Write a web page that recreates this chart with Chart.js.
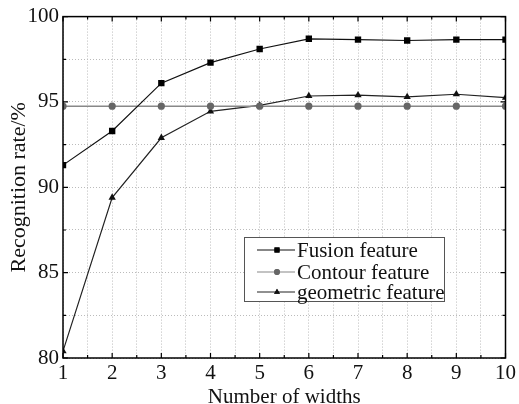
<!DOCTYPE html>
<html>
<head>
<meta charset="utf-8">
<script src="https://cdn.jsdelivr.net/npm/chart.js@4"></script>
<style>
  html, body { margin: 0; padding: 0; background: #fff; }
  #wrap { width: 519px; height: 404px; }
</style>
</head>
<body>
<div id="wrap"><canvas id="c" width="519" height="404"></canvas></div>
<script>
// Dados
const widths = [1, 2, 3, 4, 5, 6, 7, 8, 9, 10];
const fusionFeature = [91.3, 93.3, 96.1, 97.3, 98.1, 98.7, 98.65, 98.6, 98.65, 98.65];
const contourFeature = [94.75, 94.75, 94.75, 94.75, 94.75, 94.75, 94.75, 94.75, 94.75, 94.75];
const geometricFeature = [80.4, 89.4, 92.9, 94.45, 94.8, 95.35, 95.4, 95.3, 95.45, 95.25];
const seriesNames = ['Fusion feature', 'Contour feature', 'geometric feature'];

const FONT = '"Liberation Serif", "DejaVu Serif", serif';
const toPoints = arr => widths.map((x, i) => ({ x: x, y: arr[i] }));

// moldura + ticks internos
const framePlugin = {
  id: 'frame',
  afterDraw(chart) {
    const { ctx, chartArea: a, scales: { x, y } } = chart;
    ctx.save();
    ctx.strokeStyle = '#000';
    ctx.lineWidth = 1.5;
    ctx.strokeRect(a.left, a.top, a.right - a.left, a.bottom - a.top);
    ctx.lineWidth = 1.2;
    ctx.beginPath();
    for (let v = 1; v <= 10.001; v += 0.5) {
      const px = x.getPixelForValue(v);
      const len = Number.isInteger(v) ? 5 : 3;
      ctx.moveTo(px, a.bottom); ctx.lineTo(px, a.bottom - len);
      ctx.moveTo(px, a.top); ctx.lineTo(px, a.top + len);
    }
    for (let v = 80; v <= 100.001; v += 2.5) {
      const py = y.getPixelForValue(v);
      const len = v % 5 === 0 ? 5 : 3;
      ctx.moveTo(a.left, py); ctx.lineTo(a.left + len, py);
      ctx.moveTo(a.right, py); ctx.lineTo(a.right - len, py);
    }
    ctx.stroke();
    ctx.restore();
  }
};

// legenda dentro do gráfico
const legendPlugin = {
  id: 'boxLegend',
  afterDraw(chart) {
    const ctx = chart.ctx;
    const bx = 244, by = 237, bw = 200, bh = 64;
    ctx.save();
    ctx.fillStyle = '#fff';
    ctx.fillRect(bx, by, bw, bh);
    ctx.strokeStyle = '#555';
    ctx.lineWidth = 1;
    ctx.strokeRect(bx + 0.5, by + 0.5, bw, bh);
    const rows = [250, 272, 292];
    chart.data.datasets.forEach((ds, i) => {
      const yy = rows[i];
      ctx.strokeStyle = ds.borderColor;
      ctx.lineWidth = 1.2;
      ctx.beginPath();
      ctx.moveTo(bx + 13, yy); ctx.lineTo(bx + 51, yy);
      ctx.stroke();
      ctx.fillStyle = ds.pointBackgroundColor;
      Chart.helpers.drawPoint(ctx, { pointStyle: ds.pointStyle, radius: ds.pointRadius * 0.8, borderWidth: 0 }, bx + 33, yy);
      ctx.fill();
      ctx.fillStyle = '#111';
      ctx.font = '21px ' + FONT;
      ctx.textBaseline = 'middle';
      ctx.fillText(ds.label, bx + 53, yy + 1);
    });
    ctx.restore();
  }
};

new Chart(document.getElementById('c'), {
  type: 'line',
  data: {
    datasets: [
      {
        label: seriesNames[0], data: toPoints(fusionFeature),
        borderColor: '#111', backgroundColor: '#000', pointBackgroundColor: '#000',
        pointBorderWidth: 0, pointStyle: 'rect', pointRadius: 4.5, borderWidth: 1.2
      },
      {
        label: seriesNames[1], data: toPoints(contourFeature),
        borderColor: '#888', backgroundColor: '#666', pointBackgroundColor: '#666',
        pointBorderWidth: 0, pointStyle: 'circle', pointRadius: 3.6, borderWidth: 1.6
      },
      {
        label: seriesNames[2], data: toPoints(geometricFeature),
        borderColor: '#222', backgroundColor: '#111', pointBackgroundColor: '#111',
        pointBorderWidth: 0, pointStyle: 'triangle', pointRadius: 4.2, borderWidth: 1.2
      }
    ]
  },
  options: {
    responsive: false,
    animation: false,
    layout: { padding: { top: 15, right: 12, left: 2, bottom: 0 } },
    plugins: { legend: { display: false }, tooltip: { enabled: false } },
    elements: { line: { tension: 0 } },
    scales: {
      x: {
        type: 'linear', min: 1, max: 10,
        afterFit(s) { s.height = 46; },
        ticks: {
          stepSize: 0.5, color: '#111', font: { family: FONT, size: 21 }, padding: 3,
          maxRotation: 0, autoSkip: false,
          callback: v => Number.isInteger(v) ? v : ''
        },
        grid: { color: '#bbb', tickLength: 0, drawTicks: false },
        border: { display: false, dash: [1, 2] },
        title: { display: true, text: 'Number of widths', color: '#111', font: { family: FONT, size: 21 }, padding: { top: 0, bottom: -6 } }
      },
      y: {
        min: 80, max: 100,
        afterFit(s) { s.width = 61; },
        ticks: {
          stepSize: 2.5, color: '#111', font: { family: FONT, size: 21 }, padding: 4,
          callback: v => v % 5 === 0 ? v : ''
        },
        grid: { color: '#bbb', tickLength: 0, drawTicks: false },
        border: { display: false, dash: [1, 2] },
        title: { display: true, text: 'Recognition rate/%', color: '#111', font: { family: FONT, size: 22 }, padding: { bottom: 0 } }
      }
    }
  },
  plugins: [framePlugin, legendPlugin]
});
</script>
</body>
</html>
